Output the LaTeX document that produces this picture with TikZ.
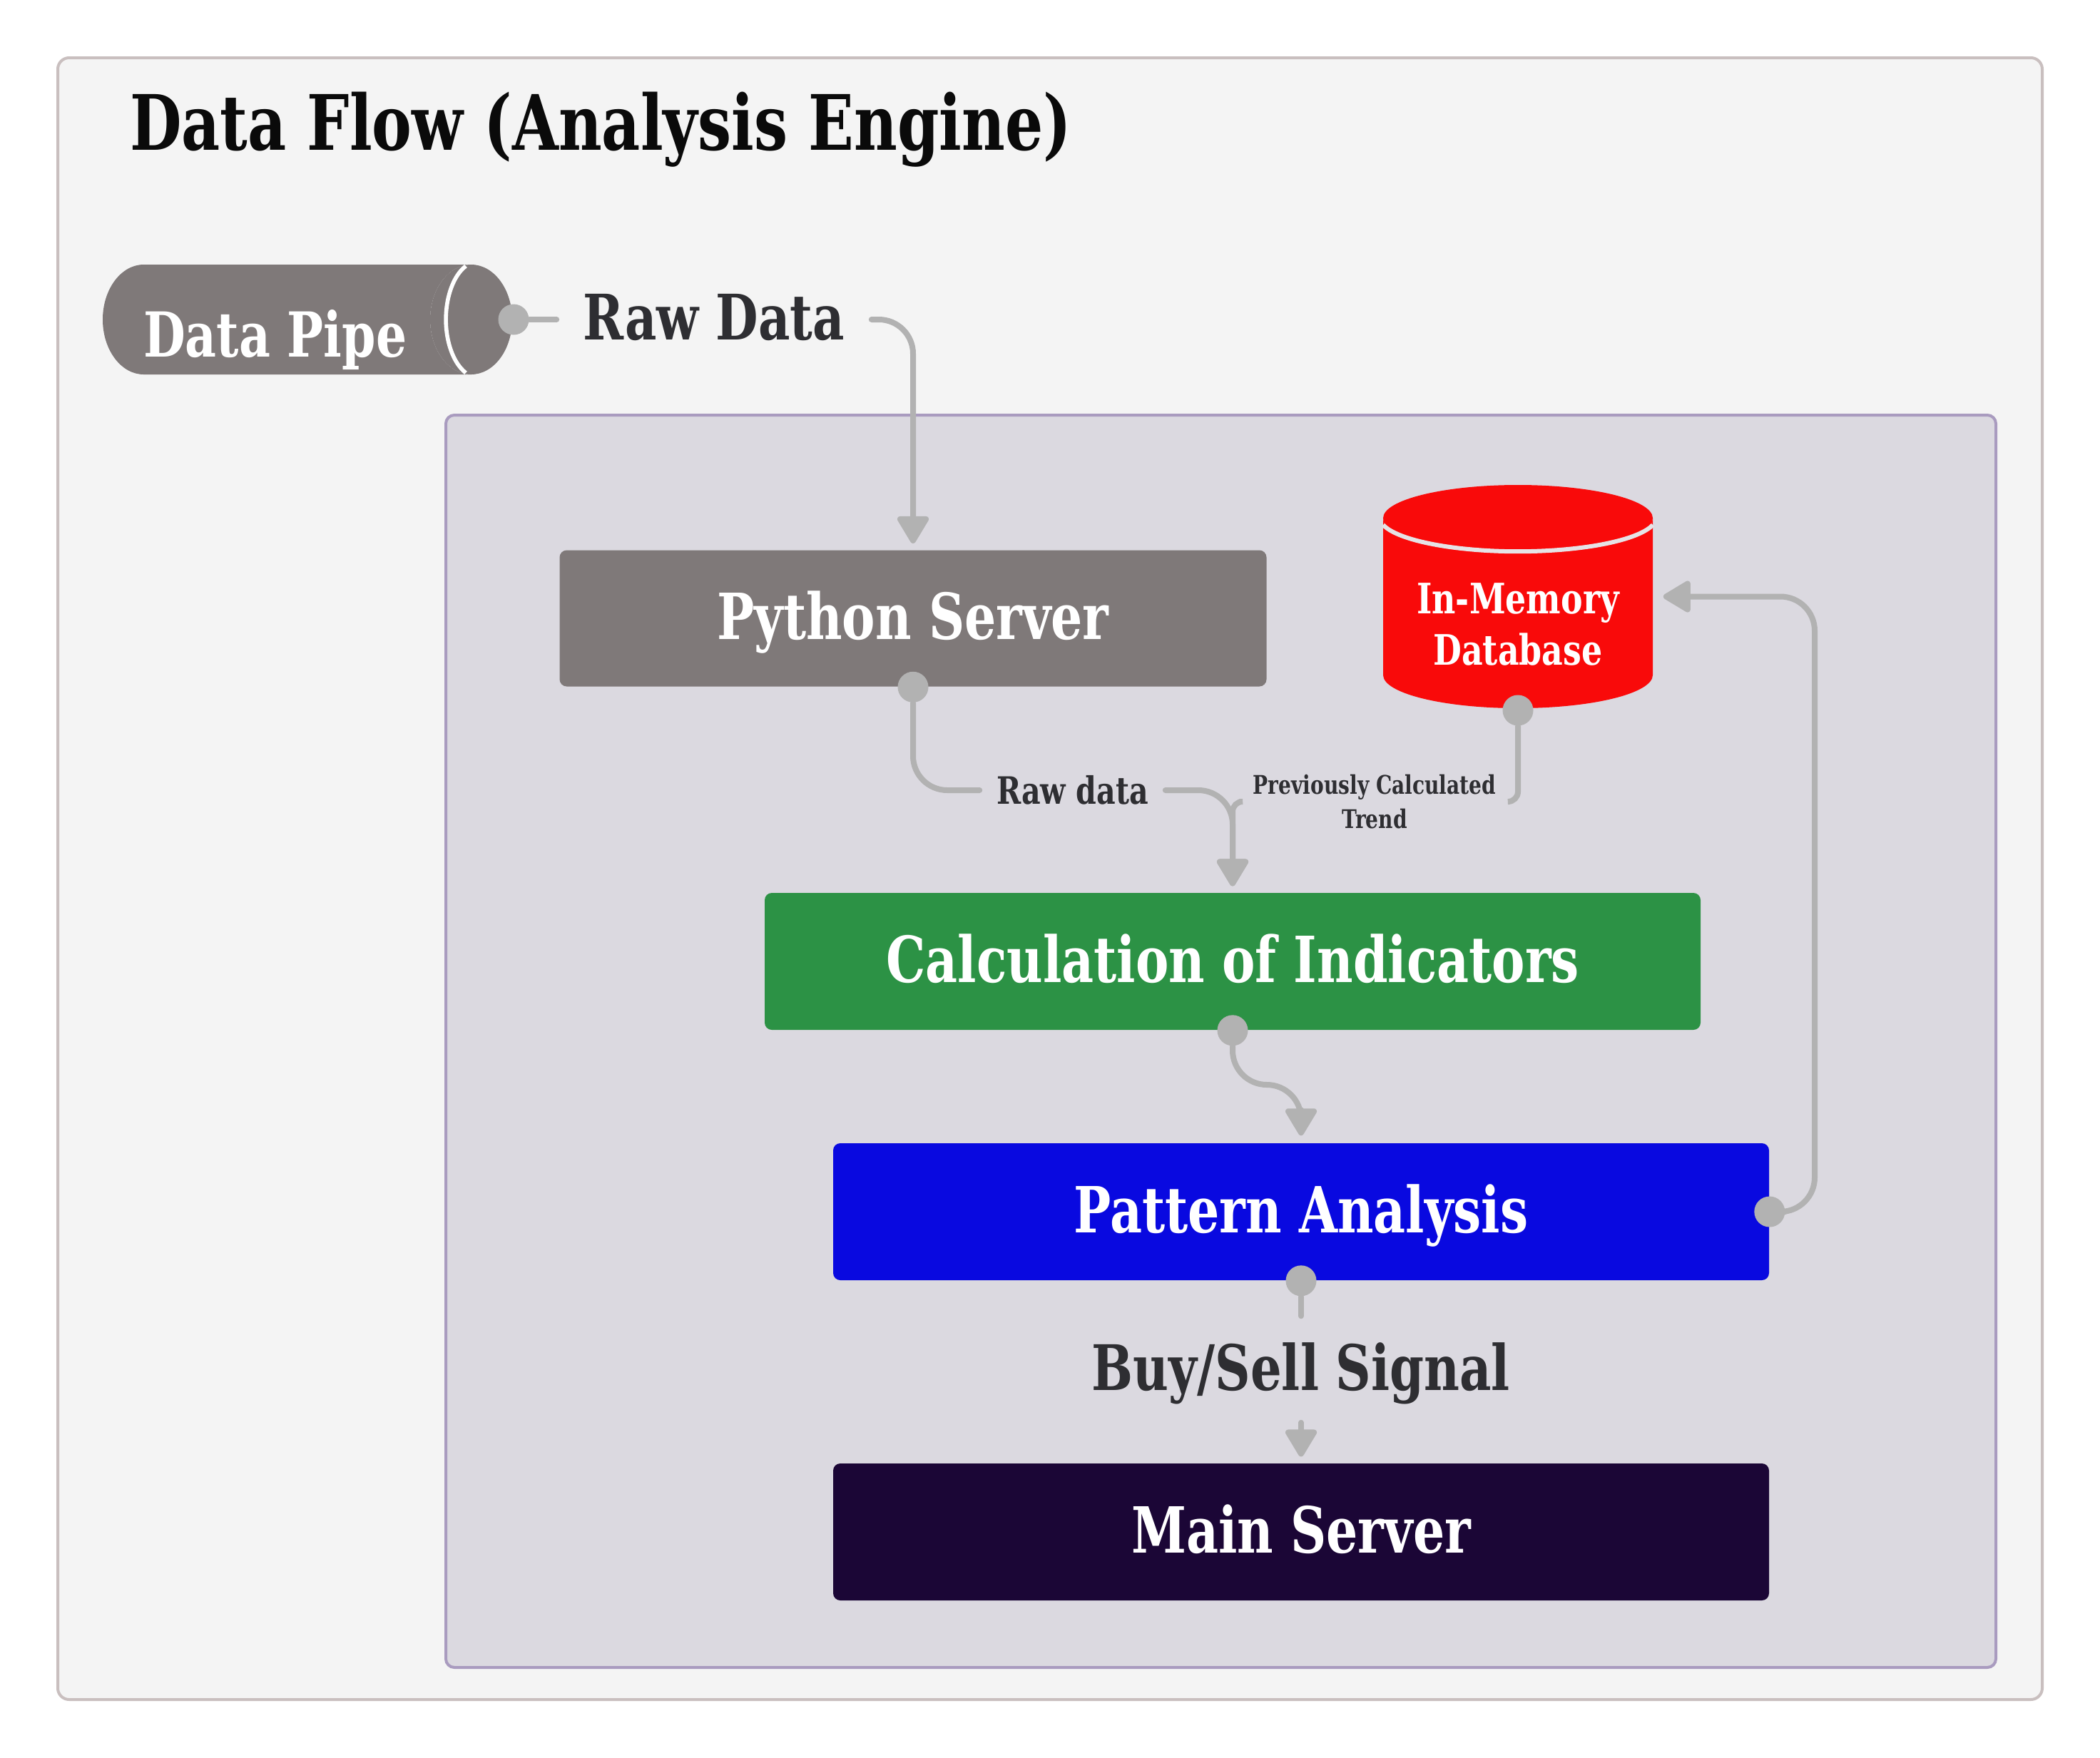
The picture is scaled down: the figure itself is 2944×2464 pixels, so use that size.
\documentclass[tikz,border=0pt]{standalone}
\usepackage{fontspec}
\setmainfont{DejaVu Serif}[FakeStretch=0.78]
\usetikzlibrary{shapes.geometric}
\usetikzlibrary{positioning}
\usetikzlibrary{arrows.meta}

\begin{document}
\begin{tikzpicture}[x=0.25pt,y=-0.25pt,>={Triangle[width=12pt,length=10.5pt,round]},
	frame node/.style={rectangle,line width=1pt},
	box node/.style={rectangle,rounded corners=2.5pt,text=white,text depth=2pt,font=\bfseries\fontsize{22.3}{26}\selectfont},
	cyl node/.style={cylinder,anchor=shape center,text=white,cylinder uses custom fill},
	port node/.style={circle,fill=linegray,inner sep=0pt,minimum size=10.75pt},
	flow label/.style={text=labelgray,inner ysep=0pt,text depth=2pt,font=\bfseries\fontsize{22}{26}\selectfont},
	flow/.style={draw=linegray,line width=2pt,line cap=round,rounded corners=12pt}]
	
	\definecolor{linegray}{RGB}{178,178,178}
	\definecolor{labelgray}{RGB}{46,46,50}
	\definecolor{outerfill}{RGB}{244,244,244}
	\definecolor{outerline}{RGB}{201,191,191}
	\definecolor{innerfill}{RGB}{219,217,224}
	\definecolor{innerline}{RGB}{169,155,191}
	\definecolor{servergray}{RGB}{127,121,121}
	\definecolor{calcgreen}{RGB}{44,146,69}
	\definecolor{patternblue}{RGB}{9,9,224}
	\definecolor{mainpurple}{RGB}{27,6,54}
	\definecolor{dbred}{RGB}{249,10,10}
	\definecolor{dbline}{RGB}{230,227,230}
	
	\path[use as bounding box,fill=white] (0,0) rectangle (2944,2464);
	
	\node[frame node,draw=outerline,fill=outerfill,rounded corners=4pt,minimum width=695.5pt,minimum height=575.5pt] (outer) at (1472,1232) {};
	\node[frame node,draw=innerline,fill=innerfill,rounded corners=3pt,minimum width=543.25pt,minimum height=439pt] (inner) at (1711.5,1460) {};
	\node[text=black!96,text depth=0pt,inner sep=0pt,font=\bfseries\fontsize{26.8}{32}\selectfont] (title) at (842,170) {Data Flow (Analysis Engine)};
	
	\node[cyl node,cylinder body fill=servergray,cylinder end fill=servergray,aspect=0.88,minimum width=38.5pt,minimum height=143.5pt,text height=26pt,text depth=0pt,font=\bfseries\fontsize{21.75}{26}\selectfont] (pipe) at (431,448) {Data Pipe};
	\node[box node,fill=servergray,minimum width=247.75pt,minimum height=47.75pt] (python) at (1280,867) {Python Server};
	\node[cyl node,cylinder body fill=dbred,cylinder end fill=dbred,shape border rotate=90,aspect=0.3,minimum width=94.5pt,minimum height=78.25pt,align=center,text height=32pt,font=\bfseries\fontsize{14.7}{18}\selectfont] (db) at (2128,836.5) {In-Memory\\Database};
	\node[box node,fill=calcgreen,minimum width=328pt,minimum height=48pt] (calc) at (1728,1348) {Calculation of Indicators};
	\node[box node,fill=patternblue,minimum width=328pt,minimum height=48pt] (pattern) at (1824,1699) {Pattern Analysis};
	\node[box node,fill=mainpurple,minimum width=328pt,minimum height=48pt] (main) at (1824,2148) {Main Server};
	
	\draw[line width=1.4pt,white] (653,373) arc[start angle=114,end angle=246,x radius=11.75pt,y radius=20.5pt];
	\draw[line width=1.5pt,dbline] (1939,736) arc[start angle=193,end angle=347,x radius=48.5pt,y radius=12pt];
	
	\node[flow label,minimum width=110pt] (rawpipe) at (1001,448) {Raw Data};
	\node[flow label,minimum width=64.75pt,text depth=0.5pt,font=\bfseries\fontsize{13.2}{16}\selectfont] (rawpython) at (1503.5,1108) {Raw data};
	\node[flow label,minimum width=94pt,align=center,text depth=0pt,font=\bfseries\fontsize{9}{12}\selectfont] (trend) at (1927,1124) {Previously Calculated\\Trend};
	\node[flow label,minimum height=37pt] (signal) at (1824,1920) {Buy/Sell Signal};
	
	\node[port node] (dotpipe) at (720,448) {};
	\node[port node] (dotpython) at (python.south) {};
	\node[port node] (dotdb) at (2128,996) {};
	\node[port node] (dotcalc) at (calc.south) {};
	\node[port node] (dotpattern) at (pattern.east) {};
	\node[port node] (dotsignal) at (pattern.south) {};
	
	\coordinate (kneecalc) at (1824,1521);
	\coordinate (dbside) at (db.shape center -| db.east);
	\coordinate (kneeback) at (2544,836.5);
	
	\draw[flow] (dotpipe) -- (rawpipe);
	\draw[flow,->,shorten >=2.2pt] (rawpipe) -| (python.north);
	\draw[flow] (dotpython) |- (rawpython);
	\draw[flow,->,shorten >=2.2pt] (rawpython) -| (calc.north);
	\draw[flow,rounded corners=3.5pt] (dotdb) |- (trend);
	\draw[flow,->,rounded corners=3.5pt,shorten >=2.2pt] (trend) -| (calc.north);
	\draw[flow,->,shorten >=2.5pt] (dotcalc) |- (kneecalc) -- (pattern.north);
	\draw[flow,->,shorten >=3.5pt] (dotpattern) -| (kneeback) -- (dbside);
	\draw[flow] (dotsignal) -- (signal);
	\draw[flow,->,shorten >=2.2pt] (signal) -- (main);
\end{tikzpicture}
\end{document}
